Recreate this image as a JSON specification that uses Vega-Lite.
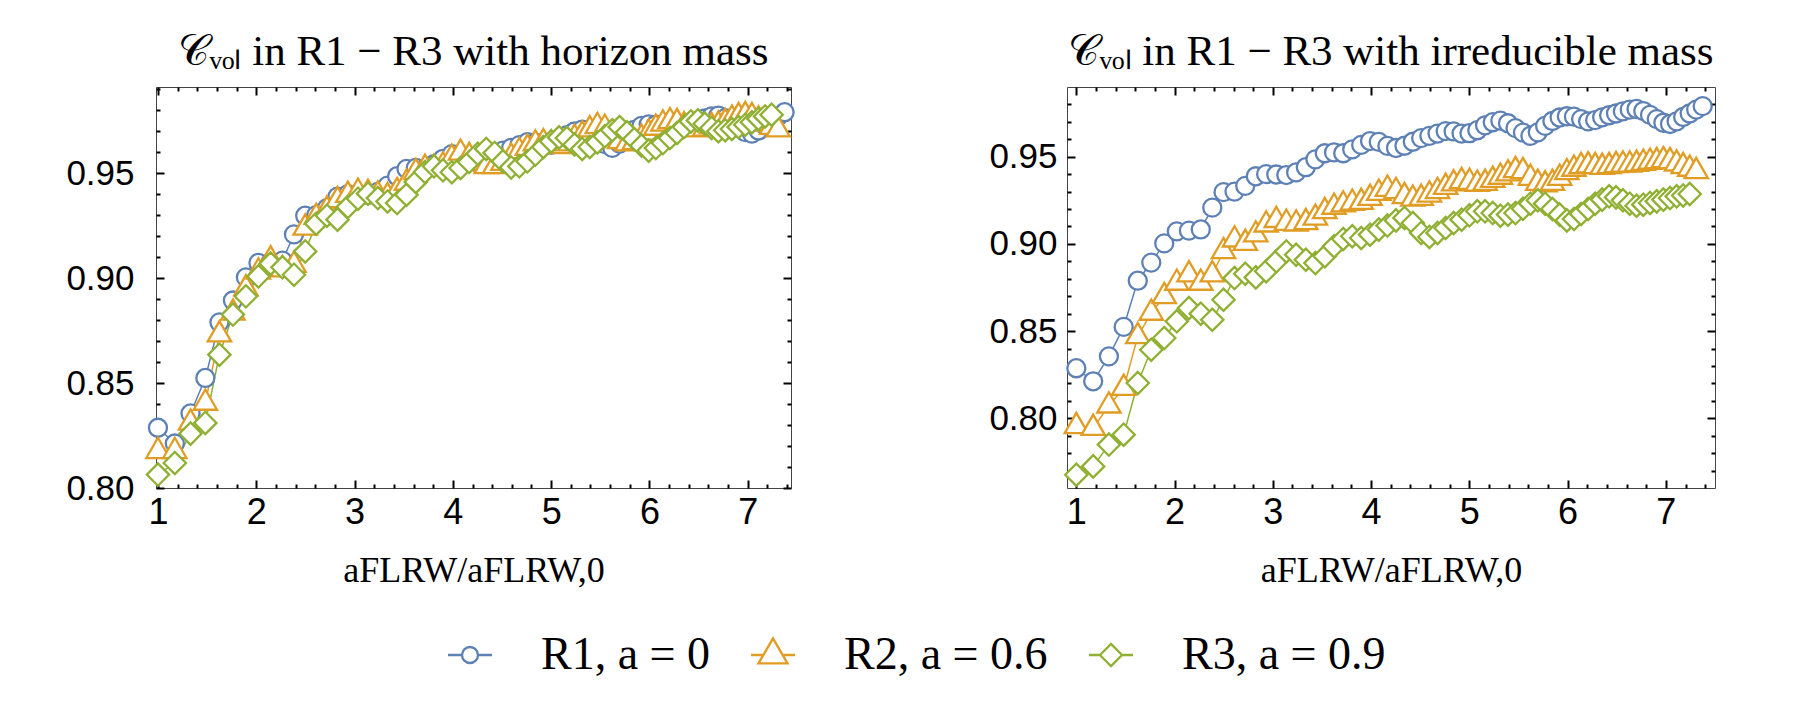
{
"$schema": "https://vega.github.io/schema/vega-lite/v6.json",
"background": "white",
"padding": {"left": 65, "top": 30, "right": 5, "bottom": 5},
"bounds": "flush",
"spacing": 276,
"config": {"view": {"stroke": "#444", "strokeWidth": 1}, "font": "Liberation Sans"},
"datasets": {
"h": [
{"s":"R1","a":1,"c":0.8287},{"s":"R1","a":1.1715,"c":0.8212},{"s":"R1","a":1.3313,"c":0.8355},{"s":"R1","a":1.482,"c":0.8524},{"s":"R1","a":1.6253,"c":0.8789},{"s":"R1","a":1.7626,"c":0.8893},{"s":"R1","a":1.8947,"c":0.9003},{"s":"R1","a":2.0224,"c":0.9072},{"s":"R1","a":2.1462,"c":0.9076},{"s":"R1","a":2.2665,"c":0.9083},{"s":"R1","a":2.3837,"c":0.9208},{"s":"R1","a":2.498,"c":0.9297},{"s":"R1","a":2.6098,"c":0.93},{"s":"R1","a":2.7192,"c":0.9333},{"s":"R1","a":2.8265,"c":0.9388},{"s":"R1","a":2.9318,"c":0.94},{"s":"R1","a":3.0352,"c":0.9398},{"s":"R1","a":3.1369,"c":0.9395},{"s":"R1","a":3.237,"c":0.941},{"s":"R1","a":3.3356,"c":0.944},{"s":"R1","a":3.4327,"c":0.9485},{"s":"R1","a":3.5285,"c":0.952},{"s":"R1","a":3.623,"c":0.9525},{"s":"R1","a":3.7162,"c":0.952},{"s":"R1","a":3.8083,"c":0.9542},{"s":"R1","a":3.8993,"c":0.9568},{"s":"R1","a":3.9893,"c":0.959},{"s":"R1","a":4.0782,"c":0.9585},{"s":"R1","a":4.1662,"c":0.9562},{"s":"R1","a":4.2533,"c":0.955},{"s":"R1","a":4.3395,"c":0.9563},{"s":"R1","a":4.4249,"c":0.9586},{"s":"R1","a":4.5094,"c":0.9607},{"s":"R1","a":4.5932,"c":0.962},{"s":"R1","a":4.6762,"c":0.9633},{"s":"R1","a":4.7585,"c":0.9647},{"s":"R1","a":4.84,"c":0.9645},{"s":"R1","a":4.9209,"c":0.9633},{"s":"R1","a":5.0011,"c":0.9635},{"s":"R1","a":5.0807,"c":0.9652},{"s":"R1","a":5.1597,"c":0.968},{"s":"R1","a":5.238,"c":0.9698},{"s":"R1","a":5.3158,"c":0.9707},{"s":"R1","a":5.393,"c":0.9692},{"s":"R1","a":5.4697,"c":0.9664},{"s":"R1","a":5.5458,"c":0.9638},{"s":"R1","a":5.6214,"c":0.962},{"s":"R1","a":5.6965,"c":0.964},{"s":"R1","a":5.7711,"c":0.9677},{"s":"R1","a":5.8452,"c":0.9705},{"s":"R1","a":5.9189,"c":0.9725},{"s":"R1","a":5.9921,"c":0.9732},{"s":"R1","a":6.0648,"c":0.973},{"s":"R1","a":6.1371,"c":0.9716},{"s":"R1","a":6.209,"c":0.9703},{"s":"R1","a":6.2805,"c":0.971},{"s":"R1","a":6.3516,"c":0.9726},{"s":"R1","a":6.4223,"c":0.9738},{"s":"R1","a":6.4927,"c":0.9748},{"s":"R1","a":6.5626,"c":0.976},{"s":"R1","a":6.6322,"c":0.977},{"s":"R1","a":6.7014,"c":0.9774},{"s":"R1","a":6.7702,"c":0.9762},{"s":"R1","a":6.8387,"c":0.974},{"s":"R1","a":6.9068,"c":0.9716},{"s":"R1","a":6.9747,"c":0.9695},{"s":"R1","a":7.0421,"c":0.9688},{"s":"R1","a":7.1093,"c":0.9703},{"s":"R1","a":7.1761,"c":0.9728},{"s":"R1","a":7.2426,"c":0.9748},{"s":"R1","a":7.3089,"c":0.977},{"s":"R1","a":7.3748,"c":0.979},
{"s":"R2","a":1,"c":0.8175},{"s":"R2","a":1.1715,"c":0.8175},{"s":"R2","a":1.3313,"c":0.831},{"s":"R2","a":1.482,"c":0.8405},{"s":"R2","a":1.6253,"c":0.8731},{"s":"R2","a":1.7626,"c":0.8834},{"s":"R2","a":1.8947,"c":0.895},{"s":"R2","a":2.0224,"c":0.903},{"s":"R2","a":2.1462,"c":0.9088},{"s":"R2","a":2.2665,"c":0.904},{"s":"R2","a":2.3837,"c":0.9062},{"s":"R2","a":2.498,"c":0.9239},{"s":"R2","a":2.6098,"c":0.929},{"s":"R2","a":2.7192,"c":0.9325},{"s":"R2","a":2.8265,"c":0.937},{"s":"R2","a":2.9318,"c":0.9395},{"s":"R2","a":3.0352,"c":0.941},{"s":"R2","a":3.1369,"c":0.9405},{"s":"R2","a":3.237,"c":0.9397},{"s":"R2","a":3.3356,"c":0.9389},{"s":"R2","a":3.4327,"c":0.9413},{"s":"R2","a":3.5285,"c":0.9453},{"s":"R2","a":3.623,"c":0.9504},{"s":"R2","a":3.7162,"c":0.9524},{"s":"R2","a":3.8083,"c":0.9524},{"s":"R2","a":3.8993,"c":0.9535},{"s":"R2","a":3.9893,"c":0.9572},{"s":"R2","a":4.0782,"c":0.9596},{"s":"R2","a":4.1662,"c":0.958},{"s":"R2","a":4.2533,"c":0.9548},{"s":"R2","a":4.3395,"c":0.9532},{"s":"R2","a":4.4249,"c":0.9532},{"s":"R2","a":4.5094,"c":0.9548},{"s":"R2","a":4.5932,"c":0.9577},{"s":"R2","a":4.6762,"c":0.9604},{"s":"R2","a":4.7585,"c":0.9619},{"s":"R2","a":4.84,"c":0.964},{"s":"R2","a":4.9209,"c":0.9646},{"s":"R2","a":5.0011,"c":0.964},{"s":"R2","a":5.0807,"c":0.9627},{"s":"R2","a":5.1597,"c":0.964},{"s":"R2","a":5.238,"c":0.9667},{"s":"R2","a":5.3158,"c":0.9683},{"s":"R2","a":5.393,"c":0.9707},{"s":"R2","a":5.4697,"c":0.9723},{"s":"R2","a":5.5458,"c":0.9715},{"s":"R2","a":5.6214,"c":0.9683},{"s":"R2","a":5.6965,"c":0.9651},{"s":"R2","a":5.7711,"c":0.964},{"s":"R2","a":5.8452,"c":0.9646},{"s":"R2","a":5.9189,"c":0.9667},{"s":"R2","a":5.9921,"c":0.9691},{"s":"R2","a":6.0648,"c":0.9715},{"s":"R2","a":6.1371,"c":0.9735},{"s":"R2","a":6.209,"c":0.9746},{"s":"R2","a":6.2805,"c":0.9742},{"s":"R2","a":6.3516,"c":0.9726},{"s":"R2","a":6.4223,"c":0.971},{"s":"R2","a":6.4927,"c":0.9707},{"s":"R2","a":6.5626,"c":0.9711},{"s":"R2","a":6.6322,"c":0.9723},{"s":"R2","a":6.7014,"c":0.973},{"s":"R2","a":6.7702,"c":0.9742},{"s":"R2","a":6.8387,"c":0.9758},{"s":"R2","a":6.9068,"c":0.977},{"s":"R2","a":6.9747,"c":0.9775},{"s":"R2","a":7.0421,"c":0.977},{"s":"R2","a":7.1093,"c":0.9754},{"s":"R2","a":7.1761,"c":0.9735},{"s":"R2","a":7.2426,"c":0.9719},{"s":"R2","a":7.3089,"c":0.9707},
{"s":"R3","a":1,"c":0.8064},{"s":"R3","a":1.1715,"c":0.8119},{"s":"R3","a":1.3313,"c":0.8259},{"s":"R3","a":1.482,"c":0.831},{"s":"R3","a":1.6253,"c":0.8635},{"s":"R3","a":1.7626,"c":0.8826},{"s":"R3","a":1.8947,"c":0.8913},{"s":"R3","a":2.0224,"c":0.9008},{"s":"R3","a":2.1462,"c":0.9069},{"s":"R3","a":2.2665,"c":0.9051},{"s":"R3","a":2.3837,"c":0.9016},{"s":"R3","a":2.498,"c":0.9127},{"s":"R3","a":2.6098,"c":0.9259},{"s":"R3","a":2.7192,"c":0.9297},{"s":"R3","a":2.8265,"c":0.9278},{"s":"R3","a":2.9318,"c":0.9339},{"s":"R3","a":3.0352,"c":0.9378},{"s":"R3","a":3.1369,"c":0.9402},{"s":"R3","a":3.237,"c":0.9381},{"s":"R3","a":3.3356,"c":0.9365},{"s":"R3","a":3.4327,"c":0.9357},{"s":"R3","a":3.5285,"c":0.9397},{"s":"R3","a":3.623,"c":0.9458},{"s":"R3","a":3.7162,"c":0.9505},{"s":"R3","a":3.8083,"c":0.9532},{"s":"R3","a":3.8993,"c":0.9513},{"s":"R3","a":3.9893,"c":0.9504},{"s":"R3","a":4.0782,"c":0.9524},{"s":"R3","a":4.1662,"c":0.9553},{"s":"R3","a":4.2533,"c":0.9592},{"s":"R3","a":4.3395,"c":0.9615},{"s":"R3","a":4.4249,"c":0.9596},{"s":"R3","a":4.5094,"c":0.9556},{"s":"R3","a":4.5932,"c":0.9527},{"s":"R3","a":4.6762,"c":0.9532},{"s":"R3","a":4.7585,"c":0.9556},{"s":"R3","a":4.84,"c":0.9588},{"s":"R3","a":4.9209,"c":0.9624},{"s":"R3","a":5.0011,"c":0.9651},{"s":"R3","a":5.0807,"c":0.967},{"s":"R3","a":5.1597,"c":0.9667},{"s":"R3","a":5.238,"c":0.9636},{"s":"R3","a":5.3158,"c":0.9615},{"s":"R3","a":5.393,"c":0.9624},{"s":"R3","a":5.4697,"c":0.9646},{"s":"R3","a":5.5458,"c":0.9675},{"s":"R3","a":5.6214,"c":0.9704},{"s":"R3","a":5.6965,"c":0.9719},{"s":"R3","a":5.7711,"c":0.9694},{"s":"R3","a":5.8452,"c":0.9662},{"s":"R3","a":5.9189,"c":0.9631},{"s":"R3","a":5.9921,"c":0.9607},{"s":"R3","a":6.0648,"c":0.9619},{"s":"R3","a":6.1371,"c":0.9643},{"s":"R3","a":6.209,"c":0.9667},{"s":"R3","a":6.2805,"c":0.9691},{"s":"R3","a":6.3516,"c":0.9719},{"s":"R3","a":6.4223,"c":0.9746},{"s":"R3","a":6.4927,"c":0.9751},{"s":"R3","a":6.5626,"c":0.9735},{"s":"R3","a":6.6322,"c":0.9715},{"s":"R3","a":6.7014,"c":0.9699},{"s":"R3","a":6.7702,"c":0.9704},{"s":"R3","a":6.8387,"c":0.971},{"s":"R3","a":6.9068,"c":0.9719},{"s":"R3","a":6.9747,"c":0.973},{"s":"R3","a":7.0421,"c":0.9742},{"s":"R3","a":7.1093,"c":0.9758},{"s":"R3","a":7.1761,"c":0.977},{"s":"R3","a":7.2426,"c":0.9778}
],
"i": [
{"s":"R1","a":1,"c":0.8287},{"s":"R1","a":1.1715,"c":0.8212},{"s":"R1","a":1.3313,"c":0.8355},{"s":"R1","a":1.482,"c":0.8524},{"s":"R1","a":1.6253,"c":0.8789},{"s":"R1","a":1.7626,"c":0.8893},{"s":"R1","a":1.8947,"c":0.9003},{"s":"R1","a":2.0224,"c":0.9072},{"s":"R1","a":2.1462,"c":0.9076},{"s":"R1","a":2.2665,"c":0.9083},{"s":"R1","a":2.3837,"c":0.9208},{"s":"R1","a":2.498,"c":0.9297},{"s":"R1","a":2.6098,"c":0.93},{"s":"R1","a":2.7192,"c":0.9333},{"s":"R1","a":2.8265,"c":0.9388},{"s":"R1","a":2.9318,"c":0.94},{"s":"R1","a":3.0352,"c":0.9398},{"s":"R1","a":3.1369,"c":0.9395},{"s":"R1","a":3.237,"c":0.941},{"s":"R1","a":3.3356,"c":0.944},{"s":"R1","a":3.4327,"c":0.9485},{"s":"R1","a":3.5285,"c":0.952},{"s":"R1","a":3.623,"c":0.9525},{"s":"R1","a":3.7162,"c":0.952},{"s":"R1","a":3.8083,"c":0.9542},{"s":"R1","a":3.8993,"c":0.9568},{"s":"R1","a":3.9893,"c":0.959},{"s":"R1","a":4.0782,"c":0.9585},{"s":"R1","a":4.1662,"c":0.9562},{"s":"R1","a":4.2533,"c":0.955},{"s":"R1","a":4.3395,"c":0.9563},{"s":"R1","a":4.4249,"c":0.9586},{"s":"R1","a":4.5094,"c":0.9607},{"s":"R1","a":4.5932,"c":0.962},{"s":"R1","a":4.6762,"c":0.9633},{"s":"R1","a":4.7585,"c":0.9647},{"s":"R1","a":4.84,"c":0.9645},{"s":"R1","a":4.9209,"c":0.9633},{"s":"R1","a":5.0011,"c":0.9635},{"s":"R1","a":5.0807,"c":0.9652},{"s":"R1","a":5.1597,"c":0.968},{"s":"R1","a":5.238,"c":0.9698},{"s":"R1","a":5.3158,"c":0.9707},{"s":"R1","a":5.393,"c":0.9692},{"s":"R1","a":5.4697,"c":0.9664},{"s":"R1","a":5.5458,"c":0.9638},{"s":"R1","a":5.6214,"c":0.962},{"s":"R1","a":5.6965,"c":0.964},{"s":"R1","a":5.7711,"c":0.9677},{"s":"R1","a":5.8452,"c":0.9705},{"s":"R1","a":5.9189,"c":0.9725},{"s":"R1","a":5.9921,"c":0.9732},{"s":"R1","a":6.0648,"c":0.973},{"s":"R1","a":6.1371,"c":0.9716},{"s":"R1","a":6.209,"c":0.9703},{"s":"R1","a":6.2805,"c":0.971},{"s":"R1","a":6.3516,"c":0.9726},{"s":"R1","a":6.4223,"c":0.9738},{"s":"R1","a":6.4927,"c":0.9748},{"s":"R1","a":6.5626,"c":0.976},{"s":"R1","a":6.6322,"c":0.977},{"s":"R1","a":6.7014,"c":0.9774},{"s":"R1","a":6.7702,"c":0.9762},{"s":"R1","a":6.8387,"c":0.974},{"s":"R1","a":6.9068,"c":0.9716},{"s":"R1","a":6.9747,"c":0.9695},{"s":"R1","a":7.0421,"c":0.9688},{"s":"R1","a":7.1093,"c":0.9703},{"s":"R1","a":7.1761,"c":0.9728},{"s":"R1","a":7.2426,"c":0.9748},{"s":"R1","a":7.3089,"c":0.977},{"s":"R1","a":7.3748,"c":0.979},
{"s":"R2","a":1,"c":0.7954},{"s":"R2","a":1.1715,"c":0.7944},{"s":"R2","a":1.3313,"c":0.8072},{"s":"R2","a":1.482,"c":0.8173},{"s":"R2","a":1.6253,"c":0.847},{"s":"R2","a":1.7626,"c":0.8604},{"s":"R2","a":1.8947,"c":0.8699},{"s":"R2","a":2.0224,"c":0.8776},{"s":"R2","a":2.1462,"c":0.8824},{"s":"R2","a":2.2665,"c":0.8776},{"s":"R2","a":2.3837,"c":0.8824},{"s":"R2","a":2.498,"c":0.8957},{"s":"R2","a":2.6098,"c":0.9024},{"s":"R2","a":2.7192,"c":0.9005},{"s":"R2","a":2.8265,"c":0.9053},{"s":"R2","a":2.9318,"c":0.911},{"s":"R2","a":3.0352,"c":0.9136},{"s":"R2","a":3.1369,"c":0.912},{"s":"R2","a":3.237,"c":0.9116},{"s":"R2","a":3.3356,"c":0.9124},{"s":"R2","a":3.4327,"c":0.9149},{"s":"R2","a":3.5285,"c":0.9187},{"s":"R2","a":3.623,"c":0.9212},{"s":"R2","a":3.7162,"c":0.9225},{"s":"R2","a":3.8083,"c":0.9235},{"s":"R2","a":3.8993,"c":0.924},{"s":"R2","a":3.9893,"c":0.9263},{"s":"R2","a":4.0782,"c":0.9292},{"s":"R2","a":4.1662,"c":0.9315},{"s":"R2","a":4.2533,"c":0.9302},{"s":"R2","a":4.3395,"c":0.9273},{"s":"R2","a":4.4249,"c":0.9258},{"s":"R2","a":4.5094,"c":0.9263},{"s":"R2","a":4.5932,"c":0.9282},{"s":"R2","a":4.6762,"c":0.9302},{"s":"R2","a":4.7585,"c":0.9326},{"s":"R2","a":4.84,"c":0.9346},{"s":"R2","a":4.9209,"c":0.9359},{"s":"R2","a":5.0011,"c":0.9355},{"s":"R2","a":5.0807,"c":0.9344},{"s":"R2","a":5.1597,"c":0.9349},{"s":"R2","a":5.238,"c":0.9366},{"s":"R2","a":5.3158,"c":0.9384},{"s":"R2","a":5.393,"c":0.9403},{"s":"R2","a":5.4697,"c":0.9422},{"s":"R2","a":5.5458,"c":0.9416},{"s":"R2","a":5.6214,"c":0.9378},{"s":"R2","a":5.6965,"c":0.9349},{"s":"R2","a":5.7711,"c":0.934},{"s":"R2","a":5.8452,"c":0.9349},{"s":"R2","a":5.9189,"c":0.9378},{"s":"R2","a":5.9921,"c":0.941},{"s":"R2","a":6.0648,"c":0.943},{"s":"R2","a":6.1371,"c":0.9445},{"s":"R2","a":6.209,"c":0.9449},{"s":"R2","a":6.2805,"c":0.9445},{"s":"R2","a":6.3516,"c":0.9441},{"s":"R2","a":6.4223,"c":0.9445},{"s":"R2","a":6.4927,"c":0.9451},{"s":"R2","a":6.5626,"c":0.9454},{"s":"R2","a":6.6322,"c":0.9454},{"s":"R2","a":6.7014,"c":0.9458},{"s":"R2","a":6.7702,"c":0.9464},{"s":"R2","a":6.8387,"c":0.947},{"s":"R2","a":6.9068,"c":0.9474},{"s":"R2","a":6.9747,"c":0.9479},{"s":"R2","a":7.0421,"c":0.9474},{"s":"R2","a":7.1093,"c":0.946},{"s":"R2","a":7.1761,"c":0.9445},{"s":"R2","a":7.2426,"c":0.943},{"s":"R2","a":7.3089,"c":0.9416},
{"s":"R3","a":1,"c":0.7676},{"s":"R3","a":1.1715,"c":0.7724},{"s":"R3","a":1.3313,"c":0.7849},{"s":"R3","a":1.482,"c":0.7906},{"s":"R3","a":1.6253,"c":0.8202},{"s":"R3","a":1.7626,"c":0.8393},{"s":"R3","a":1.8947,"c":0.846},{"s":"R3","a":2.0224,"c":0.8556},{"s":"R3","a":2.1462,"c":0.8632},{"s":"R3","a":2.2665,"c":0.86},{"s":"R3","a":2.3837,"c":0.8565},{"s":"R3","a":2.498,"c":0.868},{"s":"R3","a":2.6098,"c":0.8804},{"s":"R3","a":2.7192,"c":0.8829},{"s":"R3","a":2.8265,"c":0.8808},{"s":"R3","a":2.9318,"c":0.8843},{"s":"R3","a":3.0352,"c":0.89},{"s":"R3","a":3.1369,"c":0.8957},{"s":"R3","a":3.237,"c":0.8938},{"s":"R3","a":3.3356,"c":0.8909},{"s":"R3","a":3.4327,"c":0.889},{"s":"R3","a":3.5285,"c":0.8929},{"s":"R3","a":3.623,"c":0.8986},{"s":"R3","a":3.7162,"c":0.9028},{"s":"R3","a":3.8083,"c":0.9044},{"s":"R3","a":3.8993,"c":0.9034},{"s":"R3","a":3.9893,"c":0.9053},{"s":"R3","a":4.0782,"c":0.9082},{"s":"R3","a":4.1662,"c":0.9105},{"s":"R3","a":4.2533,"c":0.9135},{"s":"R3","a":4.3395,"c":0.9149},{"s":"R3","a":4.4249,"c":0.912},{"s":"R3","a":4.5094,"c":0.9063},{"s":"R3","a":4.5932,"c":0.904},{"s":"R3","a":4.6762,"c":0.9063},{"s":"R3","a":4.7585,"c":0.9091},{"s":"R3","a":4.84,"c":0.912},{"s":"R3","a":4.9209,"c":0.9139},{"s":"R3","a":5.0011,"c":0.9164},{"s":"R3","a":5.0807,"c":0.9187},{"s":"R3","a":5.1597,"c":0.9187},{"s":"R3","a":5.238,"c":0.9177},{"s":"R3","a":5.3158,"c":0.9162},{"s":"R3","a":5.393,"c":0.9168},{"s":"R3","a":5.4697,"c":0.9177},{"s":"R3","a":5.5458,"c":0.9202},{"s":"R3","a":5.6214,"c":0.9231},{"s":"R3","a":5.6965,"c":0.925},{"s":"R3","a":5.7711,"c":0.9231},{"s":"R3","a":5.8452,"c":0.92},{"s":"R3","a":5.9189,"c":0.9168},{"s":"R3","a":5.9921,"c":0.9135},{"s":"R3","a":6.0648,"c":0.9143},{"s":"R3","a":6.1371,"c":0.9172},{"s":"R3","a":6.209,"c":0.92},{"s":"R3","a":6.2805,"c":0.9231},{"s":"R3","a":6.3516,"c":0.9254},{"s":"R3","a":6.4223,"c":0.9273},{"s":"R3","a":6.4927,"c":0.9267},{"s":"R3","a":6.5626,"c":0.925},{"s":"R3","a":6.6322,"c":0.9231},{"s":"R3","a":6.7014,"c":0.9219},{"s":"R3","a":6.7702,"c":0.9225},{"s":"R3","a":6.8387,"c":0.9235},{"s":"R3","a":6.9068,"c":0.9244},{"s":"R3","a":6.9747,"c":0.9254},{"s":"R3","a":7.0421,"c":0.9263},{"s":"R3","a":7.1093,"c":0.9273},{"s":"R3","a":7.1761,"c":0.9278},{"s":"R3","a":7.2426,"c":0.9286}
]
},
"resolve": {"scale": {"color": "independent", "shape": "independent", "x": "independent", "y": "independent"}, "legend": {"color": "independent", "shape": "independent"}},
"hconcat": [
{
"width": 635, "height": 401,
"title": {"text": "𝒞ᵥₒₗ in R1 − R3 with horizon mass", "font": "Liberation Serif", "fontSize": 43, "fontWeight": "normal", "color": "black", "offset": 12, "anchor": "middle"},
"data": {"name": "h"},
"resolve": {"scale": {"color": "independent", "shape": "independent"}, "axis": {"x": "independent", "y": "independent"}},
"layer": [
{"mark": {"type": "line", "strokeWidth": 1.5},
 "encoding": {
  "x": {"field": "a", "type": "quantitative", "scale": {"domain": [0.98, 7.44], "nice": false, "zero": false}, "axis": {"orient": "bottom", "values": [1,2,3,4,5,6,7], "ticks": false, "domain": false, "grid": false, "labelFont": "Liberation Sans", "labelFontSize": 36, "labelColor": "black", "labelPadding": 7, "title": "aFLRW/aFLRW,0", "titleFont": "Liberation Serif", "titleFontSize": 36, "titleFontWeight": "normal", "titleColor": "black", "titlePadding": 23}},
  "y": {"field": "c", "type": "quantitative", "scale": {"domain": [0.8, 0.991], "nice": false, "zero": false}, "axis": {"orient": "left", "values": [0.8,0.85,0.9,0.95], "format": ".2f", "ticks": false, "domain": false, "grid": false, "labelFont": "Liberation Sans", "labelFontSize": 35, "labelColor": "black", "labelPadding": 22, "title": null}},
  "color": {"field": "s", "type": "nominal", "scale": {"domain": ["R1","R2","R3"], "range": ["#5E81B5","#E19C24","#8FB032"]}, "legend": null}
 }},
{"mark": {"type": "point", "filled": false, "fill": "white", "fillOpacity": 1, "opacity": 1, "strokeWidth": 2.3, "size": 450},
 "encoding": {
  "x": {"field": "a", "type": "quantitative", "scale": {"domain": [0.98, 7.44], "nice": false, "zero": false}, "axis": null},
  "y": {"field": "c", "type": "quantitative", "scale": {"domain": [0.8, 0.991], "nice": false, "zero": false}, "axis": null},
  "color": {"field": "s", "type": "nominal", "scale": {"domain": ["R1","R2","R3"], "range": ["#5E81B5","#E19C24","#8FB032"]}, "legend": null},
  "shape": {"field": "s", "type": "nominal", "scale": {"domain": ["R1","R2","R3"], "range": ["M-0.85,0A0.85,0.85,0,1,1,0.85,0A0.85,0.85,0,1,1,-0.85,0Z", "M0,-1.27L1.1,0.64L-1.1,0.64Z", "M-1.05,0L0,-1.05L1.05,0L0,1.05Z"]}, "legend": null}
 }},
{"mark": {"type": "point", "opacity": 0},
 "encoding": {
  "x": {"field": "a", "type": "quantitative", "scale": {"domain": [0.98, 7.44], "nice": false, "zero": false}, "axis": {"orient": "bottom", "values": [1,2,3,4,5,6,7], "labels": false, "domain": false, "grid": false, "ticks": true, "tickSize": -8, "tickWidth": 2, "tickColor": "black", "title": null}},
  "y": {"field": "c", "type": "quantitative", "scale": {"domain": [0.8, 0.991], "nice": false, "zero": false}, "axis": {"orient": "left", "values": [0.8,0.85,0.9,0.95], "labels": false, "domain": false, "grid": false, "ticks": true, "tickSize": -8, "tickWidth": 2, "tickColor": "black", "title": null}}
 }},
{"mark": {"type": "point", "opacity": 0},
 "encoding": {
  "x": {"field": "a", "type": "quantitative", "scale": {"domain": [0.98, 7.44], "nice": false, "zero": false}, "axis": {"orient": "bottom", "values": [1.2,1.4,1.6,1.8,2.2,2.4,2.6,2.8,3.2,3.4,3.6,3.8,4.2,4.4,4.6,4.8,5.2,5.4,5.6,5.8,6.2,6.4,6.6,6.8,7.2,7.4], "labels": false, "domain": false, "grid": false, "ticks": true, "tickSize": -4, "tickWidth": 2, "tickColor": "black", "title": null}},
  "y": {"field": "c", "type": "quantitative", "scale": {"domain": [0.8, 0.991], "nice": false, "zero": false}, "axis": {"orient": "left", "values": [0.81,0.82,0.83,0.84,0.86,0.87,0.88,0.89,0.91,0.92,0.93,0.94,0.96,0.97,0.98,0.99], "labels": false, "domain": false, "grid": false, "ticks": true, "tickSize": -4, "tickWidth": 2, "tickColor": "black", "title": null}}
 }},
{"mark": {"type": "point", "opacity": 0},
 "encoding": {
  "x": {"field": "a", "type": "quantitative", "scale": {"domain": [0.98, 7.44], "nice": false, "zero": false}, "axis": {"orient": "top", "values": [1,2,3,4,5,6,7], "labels": false, "domain": false, "grid": false, "ticks": true, "tickSize": -8, "tickWidth": 2, "tickColor": "black", "title": null}},
  "y": {"field": "c", "type": "quantitative", "scale": {"domain": [0.8, 0.991], "nice": false, "zero": false}, "axis": {"orient": "right", "values": [0.8,0.85,0.9,0.95], "labels": false, "domain": false, "grid": false, "ticks": true, "tickSize": -8, "tickWidth": 2, "tickColor": "black", "title": null}}
 }},
{"mark": {"type": "point", "opacity": 0},
 "encoding": {
  "x": {"field": "a", "type": "quantitative", "scale": {"domain": [0.98, 7.44], "nice": false, "zero": false}, "axis": {"orient": "top", "values": [1.2,1.4,1.6,1.8,2.2,2.4,2.6,2.8,3.2,3.4,3.6,3.8,4.2,4.4,4.6,4.8,5.2,5.4,5.6,5.8,6.2,6.4,6.6,6.8,7.2,7.4], "labels": false, "domain": false, "grid": false, "ticks": true, "tickSize": -4, "tickWidth": 2, "tickColor": "black", "title": null}},
  "y": {"field": "c", "type": "quantitative", "scale": {"domain": [0.8, 0.991], "nice": false, "zero": false}, "axis": {"orient": "right", "values": [0.81,0.82,0.83,0.84,0.86,0.87,0.88,0.89,0.91,0.92,0.93,0.94,0.96,0.97,0.98,0.99], "labels": false, "domain": false, "grid": false, "ticks": true, "tickSize": -4, "tickWidth": 2, "tickColor": "black", "title": null}}
 }},
{"mark": {"type": "point", "filled": false, "fill": "white", "fillOpacity": 1, "opacity": 1, "strokeWidth": 2.3, "size": 400},
 "transform": [{"filter": "false"}],
 "encoding": {
  "color": {"field": "s", "type": "nominal", "scale": {"domain": ["R1","R2","R3"], "range": ["#5E81B5","#E19C24","#8FB032"]}, "legend": {"orient": "none", "legendX": 291, "legendY": 545, "direction": "horizontal", "title": null, "padding": 0, "labelFont": "Liberation Serif", "labelFontSize": 46, "labelColor": "black", "labelLimit": 600, "labelOffset": 48, "columnPadding": 24, "symbolSize": 400, "symbolStrokeWidth": 2.3, "symbolFillColor": "white", "symbolOpacity": 1, "labelExpr": "datum.label == 'R1' ? 'R1,  a = 0' : datum.label == 'R2' ? 'R2,  a = 0.6' : 'R3,  a = 0.9'"}},
  "shape": {"field": "s", "type": "nominal", "scale": {"domain": ["R1","R2","R3"], "range": ["M-2.2,0L-0.8,0M0.8,0L2.2,0M-0.8,0A0.8,0.8,0,1,1,0.8,0A0.8,0.8,0,1,1,-0.8,0Z", "M-2.2,0L-0.965,0M0.965,0L2.2,0M0,-1.67L1.45,0.84L-1.45,0.84Z", "M-2.2,0L-1.1,0M1.1,0L2.2,0M-1.1,0L0,-1.1L1.1,0L0,1.1Z"]}, "legend": {"orient": "none", "legendX": 291, "legendY": 545, "direction": "horizontal", "title": null, "padding": 0, "labelFont": "Liberation Serif", "labelFontSize": 46, "labelColor": "black", "labelLimit": 600, "labelOffset": 48, "columnPadding": 24, "symbolSize": 400, "symbolStrokeWidth": 2.3, "symbolFillColor": "white", "symbolOpacity": 1, "labelExpr": "datum.label == 'R1' ? 'R1,  a = 0' : datum.label == 'R2' ? 'R2,  a = 0.6' : 'R3,  a = 0.9'"}}
 }}
]
},
{
"width": 648, "height": 401,
"title": {"text": "𝒞ᵥₒₗ in R1 − R3 with irreducible mass", "font": "Liberation Serif", "fontSize": 43, "fontWeight": "normal", "color": "black", "offset": 12, "anchor": "middle"},
"data": {"name": "i"},
"resolve": {"scale": {"color": "independent", "shape": "independent"}, "axis": {"x": "independent", "y": "independent"}},
"layer": [
{"mark": {"type": "line", "strokeWidth": 1.5},
 "encoding": {
  "x": {"field": "a", "type": "quantitative", "scale": {"domain": [0.905, 7.5], "nice": false, "zero": false}, "axis": {"orient": "bottom", "values": [1,2,3,4,5,6,7], "ticks": false, "domain": false, "grid": false, "labelFont": "Liberation Sans", "labelFontSize": 36, "labelColor": "black", "labelPadding": 7, "title": "aFLRW/aFLRW,0", "titleFont": "Liberation Serif", "titleFontSize": 36, "titleFontWeight": "normal", "titleColor": "black", "titlePadding": 23}},
  "y": {"field": "c", "type": "quantitative", "scale": {"domain": [0.76, 0.99], "nice": false, "zero": false}, "axis": {"orient": "left", "values": [0.8,0.85,0.9,0.95], "format": ".2f", "ticks": false, "domain": false, "grid": false, "labelFont": "Liberation Sans", "labelFontSize": 35, "labelColor": "black", "labelPadding": 10, "title": null}},
  "color": {"field": "s", "type": "nominal", "scale": {"domain": ["R1","R2","R3"], "range": ["#5E81B5","#E19C24","#8FB032"]}, "legend": null}
 }},
{"mark": {"type": "point", "filled": false, "fill": "white", "fillOpacity": 1, "opacity": 1, "strokeWidth": 2.3, "size": 450},
 "encoding": {
  "x": {"field": "a", "type": "quantitative", "scale": {"domain": [0.905, 7.5], "nice": false, "zero": false}, "axis": null},
  "y": {"field": "c", "type": "quantitative", "scale": {"domain": [0.76, 0.99], "nice": false, "zero": false}, "axis": null},
  "color": {"field": "s", "type": "nominal", "scale": {"domain": ["R1","R2","R3"], "range": ["#5E81B5","#E19C24","#8FB032"]}, "legend": null},
  "shape": {"field": "s", "type": "nominal", "scale": {"domain": ["R1","R2","R3"], "range": ["M-0.85,0A0.85,0.85,0,1,1,0.85,0A0.85,0.85,0,1,1,-0.85,0Z", "M0,-1.27L1.1,0.64L-1.1,0.64Z", "M-1.05,0L0,-1.05L1.05,0L0,1.05Z"]}, "legend": null}
 }},
{"mark": {"type": "point", "opacity": 0},
 "encoding": {
  "x": {"field": "a", "type": "quantitative", "scale": {"domain": [0.905, 7.5], "nice": false, "zero": false}, "axis": {"orient": "bottom", "values": [1,2,3,4,5,6,7], "labels": false, "domain": false, "grid": false, "ticks": true, "tickSize": -8, "tickWidth": 2, "tickColor": "black", "title": null}},
  "y": {"field": "c", "type": "quantitative", "scale": {"domain": [0.76, 0.99], "nice": false, "zero": false}, "axis": {"orient": "left", "values": [0.8,0.85,0.9,0.95], "labels": false, "domain": false, "grid": false, "ticks": true, "tickSize": -8, "tickWidth": 2, "tickColor": "black", "title": null}}
 }},
{"mark": {"type": "point", "opacity": 0},
 "encoding": {
  "x": {"field": "a", "type": "quantitative", "scale": {"domain": [0.905, 7.5], "nice": false, "zero": false}, "axis": {"orient": "bottom", "values": [1.2,1.4,1.6,1.8,2.2,2.4,2.6,2.8,3.2,3.4,3.6,3.8,4.2,4.4,4.6,4.8,5.2,5.4,5.6,5.8,6.2,6.4,6.6,6.8,7.2,7.4], "labels": false, "domain": false, "grid": false, "ticks": true, "tickSize": -4, "tickWidth": 2, "tickColor": "black", "title": null}},
  "y": {"field": "c", "type": "quantitative", "scale": {"domain": [0.76, 0.99], "nice": false, "zero": false}, "axis": {"orient": "left", "values": [0.77,0.78,0.79,0.81,0.82,0.83,0.84,0.86,0.87,0.88,0.89,0.91,0.92,0.93,0.94,0.96,0.97,0.98], "labels": false, "domain": false, "grid": false, "ticks": true, "tickSize": -4, "tickWidth": 2, "tickColor": "black", "title": null}}
 }},
{"mark": {"type": "point", "opacity": 0},
 "encoding": {
  "x": {"field": "a", "type": "quantitative", "scale": {"domain": [0.905, 7.5], "nice": false, "zero": false}, "axis": {"orient": "top", "values": [1,2,3,4,5,6,7], "labels": false, "domain": false, "grid": false, "ticks": true, "tickSize": -8, "tickWidth": 2, "tickColor": "black", "title": null}},
  "y": {"field": "c", "type": "quantitative", "scale": {"domain": [0.76, 0.99], "nice": false, "zero": false}, "axis": {"orient": "right", "values": [0.8,0.85,0.9,0.95], "labels": false, "domain": false, "grid": false, "ticks": true, "tickSize": -8, "tickWidth": 2, "tickColor": "black", "title": null}}
 }},
{"mark": {"type": "point", "opacity": 0},
 "encoding": {
  "x": {"field": "a", "type": "quantitative", "scale": {"domain": [0.905, 7.5], "nice": false, "zero": false}, "axis": {"orient": "top", "values": [1.2,1.4,1.6,1.8,2.2,2.4,2.6,2.8,3.2,3.4,3.6,3.8,4.2,4.4,4.6,4.8,5.2,5.4,5.6,5.8,6.2,6.4,6.6,6.8,7.2,7.4], "labels": false, "domain": false, "grid": false, "ticks": true, "tickSize": -4, "tickWidth": 2, "tickColor": "black", "title": null}},
  "y": {"field": "c", "type": "quantitative", "scale": {"domain": [0.76, 0.99], "nice": false, "zero": false}, "axis": {"orient": "right", "values": [0.77,0.78,0.79,0.81,0.82,0.83,0.84,0.86,0.87,0.88,0.89,0.91,0.92,0.93,0.94,0.96,0.97,0.98], "labels": false, "domain": false, "grid": false, "ticks": true, "tickSize": -4, "tickWidth": 2, "tickColor": "black", "title": null}}
 }}
]
}
]
}
